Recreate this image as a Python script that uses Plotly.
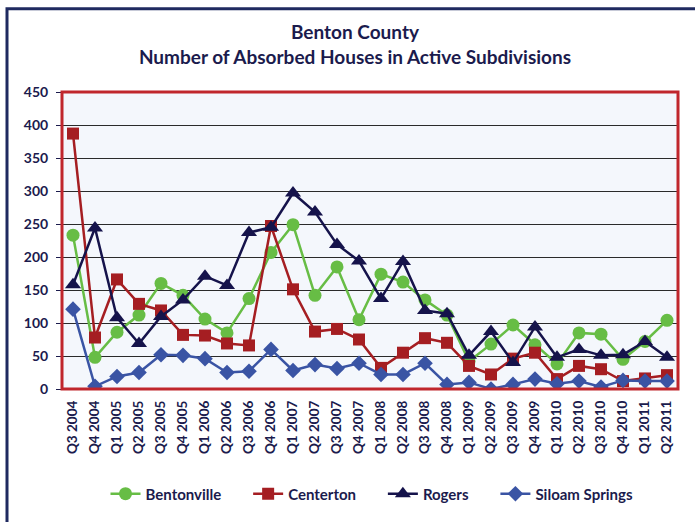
import plotly.graph_objects as go

quarters = [
    "Q3 2004", "Q4 2004", "Q1 2005", "Q2 2005", "Q3 2005", "Q4 2005",
    "Q1 2006", "Q2 2006", "Q3 2006", "Q4 2006", "Q1 2007", "Q2 2007",
    "Q3 2007", "Q4 2007", "Q1 2008", "Q2 2008", "Q3 2008", "Q4 2008",
    "Q1 2009", "Q2 2009", "Q3 2009", "Q4 2009", "Q1 2010", "Q2 2010",
    "Q3 2010", "Q4 2010", "Q1 2011", "Q2 2011",
]

bentonville = [233, 48, 86, 112, 160, 142, 106, 85, 137, 207, 249, 142,
               185, 105, 174, 162, 135, 112, 42, 68, 97, 67, 38, 85,
               83, 45, 72, 104]
centerton = [387, 78, 166, 129, 119, 82, 81, 69, 66, 247, 151, 87,
             91, 75, 32, 55, 77, 70, 35, 22, 46, 55, 15, 35,
             30, 12, 16, 21]
rogers = [158, 244, 108, 69, 110, 135, 171, 157, 237, 245, 297, 268,
          219, 194, 137, 193, 119, 114, 51, 87, 40, 94, 48, 60,
          51, 52, 72, 48]
siloam = [121, 4, 19, 25, 52, 51, 46, 25, 27, 60, 28, 37,
          31, 39, 22, 22, 39, 7, 10, 0, 7, 15, 8, 12,
          3, 13, 12, 12]

series = [
    ("Bentonville", bentonville, "#67bd45", "circle", 13),
    ("Centerton", centerton, "#a51e22", "square", 12),
    ("Rogers", rogers, "#15134b", "triangle-up", 14),
    ("Siloam Springs", siloam, "#3a54a4", "diamond", 12),
]

navy = "#1b1b4d"
font_family = "Lato, 'Open Sans', sans-serif"
pad = "\u00a0" * 6  # spacing between legend entries

fig = go.Figure()
for i, (name, vals, color, symbol, size) in enumerate(series):
    label = name + (pad if i < len(series) - 1 else "")
    fig.add_trace(go.Scatter(
        x=quarters, y=vals, name=label, mode="lines+markers",
        line=dict(color=color, width=2.5),
        marker=dict(symbol=symbol, size=size, color=color,
                    line=dict(width=0)),
    ))

W, H = 695, 522
L, R, T, B = 62, 17, 92, 130
pw, ph = W - L - R, H - T - B


def px_x(p):
    return (p - L) / pw


def px_y(p):
    return (H - B - p) / ph


fig.update_layout(
    width=W, height=H,
    margin=dict(l=L, r=R, t=T, b=B),
    paper_bgcolor="white",
    plot_bgcolor="#f4f7fc",
    font=dict(family=font_family, color=navy),
    title=dict(
        text="<b>Benton County</b><br><b>Number of Absorbed Houses in Active Subdivisions</b>",
        x=px_x(355), xref="paper", xanchor="center",
        y=1 - 39 / H, yanchor="middle",
        font=dict(size=19, color=navy, family=font_family),
    ),
    showlegend=True,
    legend=dict(
        orientation="h", x=px_x(372), xanchor="center", xref="paper",
        y=px_y(498), yanchor="middle",
        font=dict(size=15, color=navy, family=font_family, weight="bold"),
        itemwidth=30, tracegroupgap=0,
        bgcolor="rgba(0,0,0,0)",
    ),
    xaxis=dict(
        type="category", tickangle=-90,
        tickfont=dict(size=13.5, color=navy, family=font_family, weight="bold"),
        showgrid=False, showline=False, ticks="", zeroline=False,
        ticklabelstandoff=8,
        range=[-0.5, len(quarters) - 0.5],
    ),
    yaxis=dict(
        range=[0, 450], dtick=50,
        tickfont=dict(size=14, color=navy, family=font_family, weight="bold"),
        showgrid=True, gridcolor="#2a2a2a", gridwidth=1,
        ticks="outside", ticklen=5, tickcolor=navy,
        ticklabelstandoff=5,
        zeroline=False, showline=False,
    ),
    shapes=[
        # red frame around the plotting area
        dict(type="rect", xref="paper", yref="paper", x0=0, x1=1, y0=0, y1=1,
             line=dict(color="#c0262c", width=3), layer="above"),
        # navy outer frame, running off the right and bottom edges
        dict(type="rect", xref="paper", yref="paper",
             x0=px_x(7), x1=px_x(W + 20), y0=px_y(H + 20), y1=px_y(8),
             line=dict(color="#1f2a60", width=3), layer="above"),
    ],
)

fig.write_html("out.html")
